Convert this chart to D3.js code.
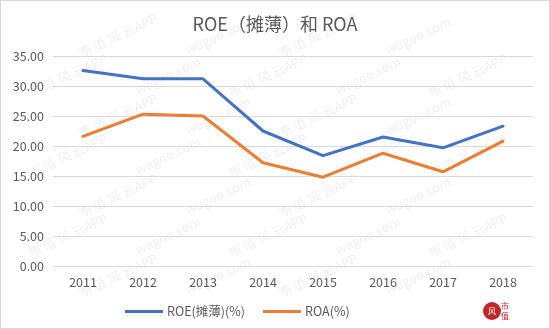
<!DOCTYPE html>
<html>
<head>
<meta charset="utf-8">
<script src="https://cdn.jsdelivr.net/npm/d3@7"></script>
<style>
  html, body { margin: 0; padding: 0; background: #fff; }
  svg { display: block; }
  text { font-family: "Noto Sans CJK SC", "Noto Sans", sans-serif; }
</style>
</head>
<body>
<svg id="chart" width="550" height="329"></svg>
<script>
// Yearly profitability ratios
const years = ["2011", "2012", "2013", "2014", "2015", "2016", "2017", "2018"];
const roe = [32.6, 31.2, 31.2, 22.5, 18.4, 21.5, 19.7, 23.3];
const roa = [21.6, 25.3, 25.0, 17.2, 14.8, 18.8, 15.7, 20.8];
const yTicks = [0, 5, 10, 15, 20, 25, 30, 35];
const seriesNames = ["ROE(摊薄)(%)", "ROA(%)"];
const seriesColors = ["#4472C4", "#ED7D31"];
const marks = ["wogoo.com", "市 值 风 云APP"];

const svg = d3.select("#chart");
const W = 550, H = 329;

// Outer frame
svg.append("rect").attr("x", 0.5).attr("y", 0.5).attr("width", W - 1).attr("height", H - 1)
  .attr("fill", "#fff").attr("stroke", "#d9d9d9");

// Faint diagonal background marks, kept fully inside the frame
const wm = svg.append("g").attr("opacity", 0.1).attr("fill", "#666").style("font-size", "13px");
const angle = -25;
let k = 0;
for (let r = 0; r < 8; r++) {
  for (let c = 0; c < 6; c++) {
    const cx = 20 + c * 100 + (r % 2) * 50;
    const cy = 40 + r * 40;
    const t = wm.append("text").attr("text-anchor", "middle")
      .attr("transform", `translate(${cx},${cy}) rotate(${angle})`)
      .text(marks[(r + c) % 2]);
    const b = t.node().getBBox();
    const a = angle * Math.PI / 180;
    const hw = Math.abs(b.width / 2 * Math.cos(a)) + Math.abs(b.height / 2 * Math.sin(a));
    const hh = Math.abs(b.width / 2 * Math.sin(a)) + Math.abs(b.height / 2 * Math.cos(a));
    if (cx - hw < 3 || cx + hw > W - 3 || cy - hh < 3 || cy + hh > H - 3) t.remove();
    k++;
  }
}

const x = d3.scaleBand().domain(years).range([53, 533]);
const y = d3.scaleLinear().domain([0, 35]).range([266, 56]);

// Gridlines
svg.append("g").selectAll("line").data(yTicks).join("line")
  .attr("x1", 53).attr("x2", 533)
  .attr("y1", d => Math.round(y(d)) + 0.5).attr("y2", d => Math.round(y(d)) + 0.5)
  .attr("stroke", "#d9d9d9").attr("stroke-width", 1);

// Y axis labels
const yAxis = d3.axisLeft(y).tickValues(yTicks).tickFormat(d3.format(".2f")).tickSize(0).tickPadding(0);
svg.append("g").attr("transform", "translate(44,0)").call(yAxis)
  .call(g => g.select(".domain").remove())
  .call(g => g.selectAll("text").attr("fill", "#595959").style("font-size", "12.5px")
    .style("font-family", "'Noto Sans CJK SC', sans-serif"));

// X axis labels
const xAxis = d3.axisBottom(x).tickSize(0).tickPadding(0);
svg.append("g").attr("transform", "translate(0,278)").call(xAxis)
  .call(g => g.select(".domain").remove())
  .call(g => g.selectAll("text").attr("fill", "#595959").style("font-size", "12.5px")
    .style("font-family", "'Noto Sans CJK SC', sans-serif"));

// Lines
const line = d3.line().x((d, i) => x(years[i]) + x.bandwidth() / 2).y(d => y(d));
[roe, roa].forEach((vals, i) => {
  svg.append("path").datum(vals).attr("d", line)
    .attr("fill", "none").attr("stroke", seriesColors[i])
    .attr("stroke-width", 3).attr("stroke-linejoin", "round").attr("stroke-linecap", "round");
});

// Title
svg.append("text").attr("x", 275).attr("y", 31).attr("text-anchor", "middle")
  .attr("fill", "#595959").style("font-size", "18px")
  .text("ROE（摊薄）和 ROA");

// Legend
const legend = [{x: 125, label: seriesNames[0], color: seriesColors[0]},
                {x: 263, label: seriesNames[1], color: seriesColors[1]}];
const lg = svg.append("g");
legend.forEach(d => {
  lg.append("line").attr("x1", d.x).attr("x2", d.x + 38).attr("y1", 311.5).attr("y2", 311.5)
    .attr("stroke", d.color).attr("stroke-width", 3);
  lg.append("text").attr("x", d.x + 42).attr("y", 316).attr("fill", "#595959")
    .style("font-size", "12.5px").text(d.label);
});

// Corner badge
const badge = svg.append("g").attr("transform", "translate(492,311)");
badge.append("circle").attr("cx", 0).attr("cy", 0).attr("r", 9).attr("fill", "#c0272d");
badge.append("text").attr("x", 0).attr("y", 3).attr("text-anchor", "middle")
  .attr("fill", "#fff").style("font-size", "8px").text("风");
badge.append("text").attr("x", 13).attr("y", -2).attr("text-anchor", "middle")
  .attr("fill", "#c0272d").style("font-size", "8px").text("市");
badge.append("text").attr("x", 13).attr("y", 8).attr("text-anchor", "middle")
  .attr("fill", "#c0272d").style("font-size", "8px").text("值");
</script>
</body>
</html>
